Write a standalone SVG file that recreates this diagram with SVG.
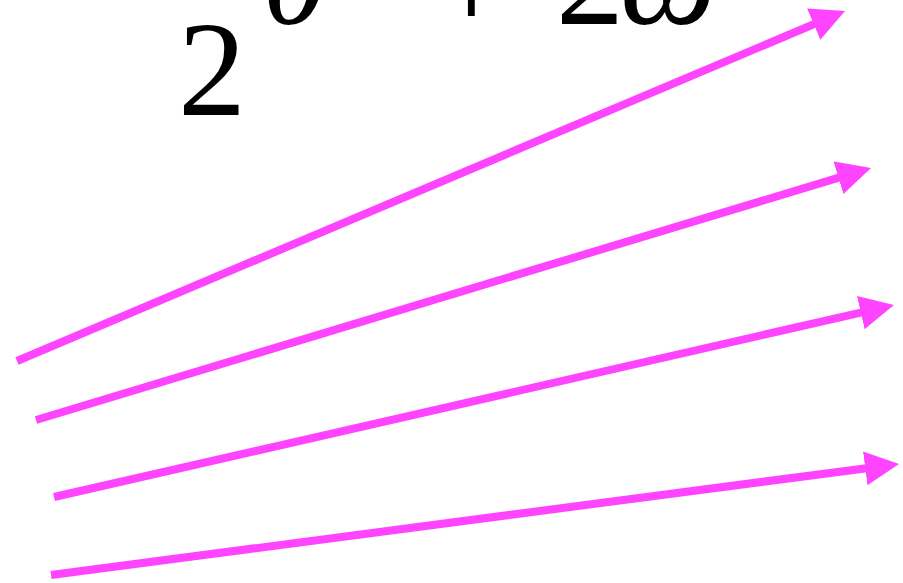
<svg xmlns="http://www.w3.org/2000/svg" width="903" height="583" viewBox="0 0 903 583">
<style>
.math{font-family:"Liberation Serif","Times New Roman",serif;font-size:136px;fill:#000}
.it{font-style:italic}
.arrow{stroke:#ff44ff;stroke-width:8;fill:none;marker-end:url(#head)}
</style>
<defs>
<marker id="head" viewBox="0 -17 34 34" refX="9" refY="0" markerWidth="34" markerHeight="34" markerUnits="userSpaceOnUse" orient="auto">
<path d="M0,-17 L34,0 L0,17 z" fill="#ff44ff"/>
</marker>
</defs>
<rect width="903" height="583" fill="#fff"/>
<g id="formula">
<text class="math" x="178" y="115">2</text>
<text class="math it" x="262" y="24">θ</text>
<text class="math" x="433" y="30">+</text>
<text class="math" x="556" y="24">2</text>
<text class="math it" x="620" y="24">ω</text>
</g>
<g id="connectors">
<line class="arrow" x1="17" y1="361" x2="822" y2="20.7"/>
<line class="arrow" x1="36" y1="420" x2="847.1" y2="175.2"/>
<line class="arrow" x1="54" y1="497" x2="869.6" y2="310.6"/>
<line class="arrow" x1="51" y1="575" x2="874.2" y2="467.2"/>
</g>
</svg>
